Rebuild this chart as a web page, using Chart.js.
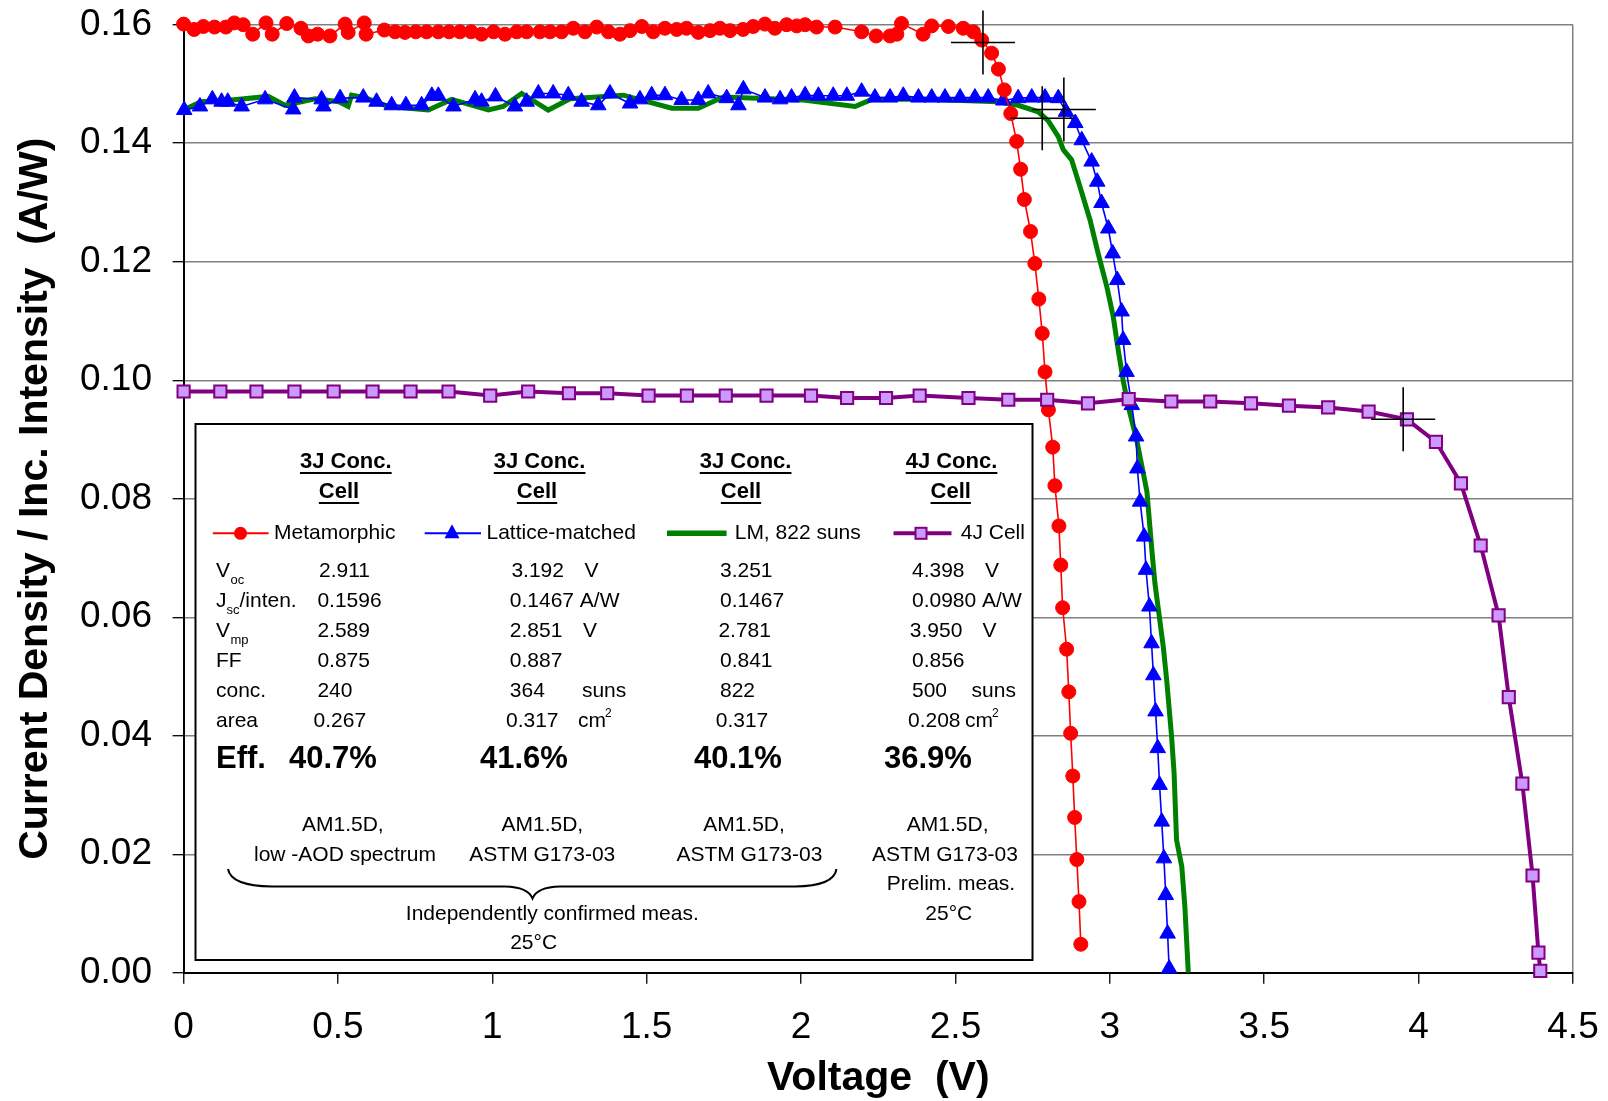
<!DOCTYPE html>
<html><head><meta charset="utf-8">
<script src="https://cdn.jsdelivr.net/npm/chart.js@4.4.1/dist/chart.umd.min.js"></script>
<style>html,body{margin:0;padding:0;background:#fff;} canvas{display:block;}</style>
</head><body>
<canvas id="c" width="1608" height="1101"></canvas>
<script>
// ---------------- DATA ----------------
const xTickValues = [0, 0.5, 1, 1.5, 2, 2.5, 3, 3.5, 4, 4.5];
const yTickValues = [0, 0.02, 0.04, 0.06, 0.08, 0.10, 0.12, 0.14, 0.16];

const metaV = [0.000,0.034,0.064,0.100,0.137,0.164,0.193,0.224,0.267,0.287,0.334,0.380,0.404,0.434,0.474,0.523,0.533,0.585,0.591,0.650,
 0.685,0.717,0.752,0.787,0.825,0.860,0.895,0.931,0.965,1.004,1.041,1.079,1.111,1.154,1.187,1.224,1.262,1.300,1.338,1.376,
 1.413,1.446,1.484,1.521,1.559,1.597,1.629,1.667,1.705,1.737,1.770,1.812,1.845,1.883,1.915,1.953,1.986,2.013,2.050,2.110,
 2.196,2.243,2.288,2.310,2.325,2.395,2.423,2.477,2.525,2.558,2.585,2.617,2.639,2.658,2.679,2.698,2.711,2.723,2.743,2.757,
 2.770,2.781,2.790,2.801,2.815,2.822,2.835,2.841,2.847,2.860,2.867,2.873,2.880,2.886,2.893,2.900,2.906];
const metaI = [0.1601,0.1592,0.1597,0.1596,0.1596,0.1603,0.1600,0.1584,0.1603,0.1584,0.1602,0.1594,0.1581,0.1584,0.1581,0.1601,0.1587,0.1603,0.1584,0.1591,
 0.1588,0.1587,0.1588,0.1588,0.1588,0.1588,0.1588,0.1588,0.1584,0.1588,0.1584,0.1588,0.1588,0.1588,0.1588,0.1588,0.1594,0.1588,0.1596,0.1588,
 0.1584,0.1590,0.1597,0.1588,0.1594,0.1592,0.1594,0.1587,0.1590,0.1594,0.1590,0.1592,0.1597,0.1601,0.1594,0.1600,0.1598,0.1600,0.1596,0.1596,
 0.1588,0.1581,0.1581,0.1584,0.1602,0.1584,0.1598,0.1597,0.1594,0.1588,0.1574,0.1552,0.1525,0.1490,0.1450,0.1403,0.1356,0.1305,0.1251,0.1197,
 0.1137,0.1079,0.1014,0.0950,0.0887,0.0822,0.0754,0.0688,0.0616,0.0546,0.0474,0.0404,0.0332,0.0262,0.0191,0.0120,0.0048];

const lmV = [0.002,0.053,0.093,0.123,0.143,0.188,0.264,0.355,0.359,0.447,0.453,0.507,0.582,0.625,0.674,0.720,0.771,0.804,0.825,0.874,
 0.944,0.965,1.010,1.073,1.111,1.149,1.197,1.246,1.289,1.343,1.381,1.446,1.478,1.516,1.559,1.613,1.667,1.699,1.759,1.797,
 1.813,1.883,1.932,1.969,2.013,2.056,2.104,2.148,2.196,2.239,2.288,2.331,2.380,2.423,2.466,2.515,2.563,2.606,2.655,2.703,
 2.747,2.790,2.833,2.858,2.888,2.909,2.941,2.959,2.973,2.995,3.009,3.024,3.038,3.043,3.054,3.071,3.085,3.089,3.098,3.111,
 3.117,3.128,3.135,3.141,3.148,3.155,3.161,3.168,3.175,3.181,3.187,3.192];
const lmI = [0.1456,0.1462,0.1474,0.1470,0.1470,0.1462,0.1474,0.1457,0.1477,0.1474,0.1462,0.1476,0.1477,0.1470,0.1464,0.1464,0.1464,0.1480,0.1480,0.1462,
 0.1474,0.1470,0.1479,0.1462,0.1470,0.1484,0.1484,0.1481,0.1470,0.1464,0.1484,0.1467,0.1474,0.1481,0.1481,0.1473,0.1473,0.1484,0.1476,0.1464,
 0.1491,0.1477,0.1474,0.1477,0.1481,0.1480,0.1480,0.1480,0.1487,0.1477,0.1477,0.1480,0.1477,0.1477,0.1477,0.1477,0.1477,0.1477,0.1472,0.1476,
 0.1477,0.1477,0.1476,0.1453,0.1434,0.1405,0.1369,0.1335,0.1299,0.1256,0.1214,0.1169,0.1116,0.1068,0.1014,0.0958,0.0905,0.0851,0.0795,0.0736,
 0.0680,0.0618,0.0556,0.0502,0.0441,0.0379,0.0317,0.0255,0.0193,0.0131,0.0066,0.0007];

const lm822V = [0.000,0.056,0.139,0.274,0.328,0.426,0.503,0.533,0.544,0.588,0.663,0.793,0.868,0.987,1.035,1.095,1.181,1.252,1.424,1.581,
 1.667,1.748,1.856,2.007,2.175,2.229,2.400,2.639,2.703,2.768,2.800,2.833,2.849,2.876,2.903,2.936,2.962,2.990,3.011,3.027,
 3.043,3.060,3.087,3.120,3.136,3.146,3.173,3.184,3.200,3.208,3.216,3.233,3.243,3.254];
const lm822I = [0.1456,0.1470,0.1472,0.1479,0.1464,0.1475,0.1470,0.1462,0.1481,0.1477,0.1462,0.1456,0.1474,0.1456,0.1462,0.1484,0.1456,0.1475,0.1481,0.1459,
 0.1459,0.1478,0.1476,0.1473,0.1462,0.1474,0.1474,0.1470,0.1464,0.1453,0.1438,0.1411,0.1389,0.1372,0.1327,0.1270,0.1214,0.1158,0.1107,0.1051,
 0.1000,0.0955,0.0899,0.0812,0.0713,0.0657,0.0550,0.0494,0.0398,0.0337,0.0224,0.0179,0.0111,0.0000];

const fourJV = [0.000,0.119,0.236,0.359,0.486,0.612,0.735,0.858,0.993,1.116,1.248,1.372,1.506,1.630,1.756,1.888,2.032,2.149,2.275,2.384,
 2.542,2.671,2.797,2.929,3.061,3.199,3.325,3.457,3.580,3.707,3.838,3.962,4.056,4.137,4.201,4.259,4.292,4.336,4.369,4.388,4.394];
const fourJI = [0.0981,0.0981,0.0981,0.0981,0.0981,0.0981,0.0981,0.0981,0.0974,0.0981,0.0978,0.0978,0.0974,0.0974,0.0974,0.0974,0.0974,0.0970,0.0970,0.0974,
 0.0970,0.0967,0.0967,0.0961,0.0968,0.0964,0.0964,0.0961,0.0957,0.0954,0.0947,0.0934,0.0896,0.0826,0.0721,0.0603,0.0465,0.0319,0.0164,0.0034,0.0003];

// maximum power points (Vmp, Jmp)
const mppV = [2.589, 2.851, 2.781, 3.950];
const mppI = [0.1570, 0.1457, 0.1442, 0.0934];

// table content
const seriesNames = ['Metamorphic', 'Lattice-matched', 'LM, 822 suns', '4J Cell'];
const cellHeaders = ['3J Conc.', '3J Conc.', '3J Conc.', '4J Conc.'];
const vocVals = ['2.911', '3.192', '3.251', '4.398'];
const jscVals = ['0.1596', '0.1467 A/W', '0.1467', '0.0980 A/W'];
const vmpVals = ['2.589', '2.851', '2.781', '3.950'];
const ffVals = ['0.875', '0.887', '0.841', '0.856'];
const concVals = ['240', '364', '822', '500'];
const areaVals = ['0.267', '0.317', '0.317', '0.208'];
const effVals = ['40.7%', '41.6%', '40.1%', '36.9%'];
const spectrumLine1 = ['AM1.5D,', 'AM1.5D,', 'AM1.5D,', 'AM1.5D,'];
const spectrumLine2 = ['low -AOD spectrum', 'ASTM G173-03', 'ASTM G173-03', 'ASTM G173-03'];

// ---------------- RENDER ----------------
const FONT = "'Liberation Sans', Arial, Helvetica, sans-serif";
const toXY = (xs, ys) => xs.map((x, i) => ({x: x, y: ys[i]}));

function txt(ctx, s, x, y, size, bold, align) {
  ctx.font = (bold ? 'bold ' : '') + size + 'px ' + FONT;
  ctx.textAlign = align || 'left';
  ctx.textBaseline = 'middle';
  ctx.fillStyle = '#000';
  ctx.fillText(s, x, y);
  return ctx.measureText(s).width;
}

const tablePlugin = {
  id: 'cellTable',
  beforeDatasetsDraw(chart) {
    const ctx = chart.ctx;
    ctx.save();
    const bx = 195.5, by = 424, bw = 837, bh = 536;
    ctx.fillStyle = '#fff';
    ctx.fillRect(bx, by, bw, bh);
    ctx.strokeStyle = '#000'; ctx.lineWidth = 2;
    ctx.strokeRect(bx, by, bw, bh);

    // headers
    const h1x = [345.8, 539.6, 745.6, 951.5];
    const h2x = [339, 537, 741, 950.7];
    for (let i = 0; i < 4; i++) {
      let w = txt(ctx, cellHeaders[i], h1x[i], 461.7, 22, true, 'center');
      ctx.fillRect(h1x[i] - w / 2, 472, w, 2);
      w = txt(ctx, 'Cell', h2x[i], 491.7, 22, true, 'center');
      ctx.fillRect(h2x[i] - w / 2, 502, w, 2);
    }

    // legend row
    const ly = 533.3;
    ctx.lineWidth = 2; ctx.strokeStyle = '#FF0000';
    ctx.beginPath(); ctx.moveTo(212.8, ly); ctx.lineTo(268.6, ly); ctx.stroke();
    ctx.fillStyle = '#FF0000'; ctx.beginPath(); ctx.arc(240.5, ly, 6.5, 0, Math.PI * 2); ctx.fill();
    txt(ctx, seriesNames[0], 274, ly, 21);

    ctx.lineWidth = 2; ctx.strokeStyle = '#0000FF';
    ctx.beginPath(); ctx.moveTo(424.7, ly); ctx.lineTo(481, ly); ctx.stroke();
    ctx.fillStyle = '#0000FF'; ctx.beginPath();
    ctx.moveTo(452, ly - 9); ctx.lineTo(459.5, ly + 5); ctx.lineTo(444.5, ly + 5); ctx.closePath(); ctx.fill();
    txt(ctx, seriesNames[1], 486.5, ly, 21);

    ctx.lineWidth = 5.5; ctx.strokeStyle = '#008000';
    ctx.beginPath(); ctx.moveTo(667, ly); ctx.lineTo(726.6, ly); ctx.stroke();
    txt(ctx, seriesNames[2], 734.7, ly, 21);

    ctx.lineWidth = 4; ctx.strokeStyle = '#800080';
    ctx.beginPath(); ctx.moveTo(893.5, ly); ctx.lineTo(951.5, ly); ctx.stroke();
    ctx.fillStyle = '#CC99FF'; ctx.fillRect(915.5, ly - 5.5, 11, 11);
    ctx.lineWidth = 2; ctx.strokeRect(915.5, ly - 5.5, 11, 11);
    txt(ctx, seriesNames[3], 960.7, ly, 21);

    // row labels
    const ry = [571.7, 601.7, 631.7, 661.7, 691.7, 721.7];
    let w = txt(ctx, 'V', 216, ry[0], 21);
    txt(ctx, 'oc', 216 + w + 0.5, ry[0] + 9, 13);
    w = txt(ctx, 'J', 216, ry[1], 21);
    const w2 = txt(ctx, 'sc', 216 + w, ry[1] + 9, 13);
    txt(ctx, '/inten.', 216 + w + w2, ry[1], 21);
    w = txt(ctx, 'V', 216, ry[2], 21);
    txt(ctx, 'mp', 216 + w + 0.5, ry[2] + 9, 13);
    txt(ctx, 'FF', 216, ry[3], 21);
    txt(ctx, 'conc.', 216, ry[4], 21);
    txt(ctx, 'area', 216, ry[5], 21);

    // values
    const colX = [
      [319, 317.4, 317.4, 317.4, 317.4, 313.6],
      [511.4, 509.8, 509.8, 509.8, 509.8, 506],
      [720, 720, 718.4, 720, 720, 715.7],
      [912, 912, 909.8, 912, 912, 908]
    ];
    const rows = [vocVals, jscVals, vmpVals, ffVals, concVals, areaVals];
    for (let c = 0; c < 4; c++) {
      for (let r = 0; r < 6; r++) txt(ctx, rows[r][c], colX[c][r], ry[r], 21);
    }
    // units
    txt(ctx, 'V', 584.6, ry[0], 21);
    txt(ctx, 'V', 583, ry[2], 21);
    txt(ctx, 'suns', 581.9, ry[4], 21);
    w = txt(ctx, 'cm', 578, ry[5], 21);
    txt(ctx, '2', 578 + w - 1, ry[5] - 8, 12);
    txt(ctx, 'V', 985, ry[0], 21);
    txt(ctx, 'V', 982.4, ry[2], 21);
    txt(ctx, 'suns', 971.6, ry[4], 21);
    w = txt(ctx, 'cm', 965, ry[5], 21);
    txt(ctx, '2', 965 + w - 1, ry[5] - 8, 12);

    // efficiencies
    txt(ctx, 'Eff.', 216, 759, 31, true);
    const effX = [289, 480, 694, 884];
    for (let c = 0; c < 4; c++) txt(ctx, effVals[c], effX[c], 759, 31, true);

    // spectrum notes
    const s1x = [342.8, 542.3, 744, 947.7];
    const s2x = [345, 542.3, 749.4, 945];
    for (let c = 0; c < 4; c++) {
      txt(ctx, spectrumLine1[c], s1x[c], 825, 21, false, 'center');
      txt(ctx, spectrumLine2[c], s2x[c], 855, 21, false, 'center');
    }
    txt(ctx, 'Prelim. meas.', 951, 884, 21, false, 'center');
    txt(ctx, '25°C', 948.8, 914, 21, false, 'center');
    txt(ctx, 'Independently confirmed meas.', 552.3, 914, 21, false, 'center');
    txt(ctx, '25°C', 533.6, 943.3, 21, false, 'center');

    // brace
    ctx.strokeStyle = '#000'; ctx.lineWidth = 2;
    ctx.beginPath();
    ctx.moveTo(228, 869);
    ctx.quadraticCurveTo(231, 886, 272, 886.5);
    ctx.lineTo(505, 886.5);
    ctx.quadraticCurveTo(528, 887, 532.5, 898.5);
    ctx.quadraticCurveTo(537, 887, 560, 886.5);
    ctx.lineTo(795, 886.5);
    ctx.quadraticCurveTo(834, 886, 836.5, 869);
    ctx.stroke();
    ctx.restore();
  }
};

const axisTitleFont = {family: FONT, size: 41, weight: 'bold', lineHeight: 1};
const tickFont = {family: FONT, size: 37, lineHeight: 1.2};

new Chart(document.getElementById('c'), {
  type: 'scatter',
  data: {
    datasets: [
      {label: 'Max power point', data: toXY(mppV, mppI), showLine: false, pointStyle: 'cross',
       pointRadius: 32, pointBorderColor: '#000', pointBorderWidth: 1.6, order: 0, clip: false},
      {label: seriesNames[3], data: toXY(fourJV, fourJI), showLine: true, borderColor: '#800080', borderWidth: 4,
       pointStyle: 'rect', pointRadius: 8.6, pointBackgroundColor: '#CC99FF', pointBorderColor: '#800080',
       pointBorderWidth: 2, order: 1, clip: false},
      {label: seriesNames[0], data: toXY(metaV, metaI), showLine: true, borderColor: '#FF0000', borderWidth: 1.6,
       pointStyle: 'circle', pointRadius: 7, pointBackgroundColor: '#FF0000', pointBorderColor: '#FF0000',
       pointBorderWidth: 1, order: 2, clip: false},
      {label: seriesNames[1], data: toXY(lmV, lmI), showLine: true, borderColor: '#0000FF', borderWidth: 1.6,
       pointStyle: 'triangle', pointRadius: 9, pointBackgroundColor: '#0000FF', pointBorderColor: '#0000FF',
       pointBorderWidth: 1, order: 3, clip: false},
      {label: seriesNames[2], data: toXY(lm822V, lm822I), showLine: true, borderColor: '#008000', borderWidth: 5,
       pointRadius: 0, order: 4, clip: false}
    ]
  },
  options: {
    responsive: false, animation: false, devicePixelRatio: 1, events: [],
    layout: {autoPadding: false, padding: {top: 24.7, right: 35, left: 0, bottom: 0}},
    plugins: {legend: {display: false}, tooltip: {enabled: false}},
    scales: {
      x: {
        type: 'linear', min: 0, max: 4.5,
        afterBuildTicks: s => { s.ticks = xTickValues.map(v => ({value: v})); },
        afterFit: s => { s.height = 128.3; s.paddingLeft = 0; s.paddingRight = 0; },
        ticks: {font: tickFont, color: '#000', padding: 21.6, maxRotation: 0, autoSkip: false,
                callback: v => String(v)},
        grid: {drawOnChartArea: true, color: c => (c.tick && c.tick.value === 4.5) ? '#808080' : 'rgba(0,0,0,0)',
               lineWidth: 1.5, tickColor: '#000', tickLength: 11, tickWidth: 1.3},
        border: {display: true, color: '#000', width: 2},
        title: {display: true, text: 'Voltage  (V)', font: axisTitleFont, color: '#000', padding: {top: 0, bottom: 1.5}}
      },
      y: {
        type: 'linear', min: 0, max: 0.16,
        afterBuildTicks: s => { s.ticks = yTickValues.map(v => ({value: v})); },
        afterFit: s => { s.width = 183.6; s.paddingTop = 0; s.paddingBottom = 0; },
        ticks: {font: tickFont, color: '#000', padding: 20.6, autoSkip: false, callback: v => v.toFixed(2)},
        grid: {color: '#808080', lineWidth: 1.4, tickColor: '#000', tickLength: 11, tickWidth: 1.3},
        border: {display: true, color: '#000', width: 2},
        title: {display: true, text: 'Current Density / Inc. Intensity  (A/W)', font: axisTitleFont, color: '#000',
                padding: {top: 15.5, bottom: 0}}
      }
    }
  },
  plugins: [tablePlugin]
});
</script>
</body></html>
